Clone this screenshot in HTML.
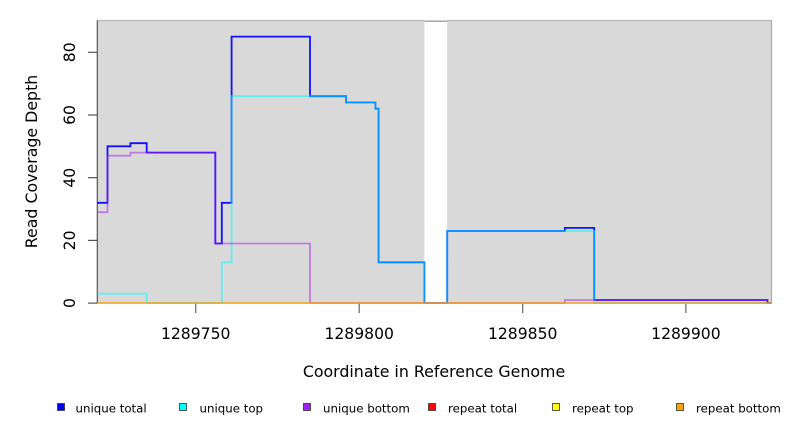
<!DOCTYPE html>
<html>
<head>
<meta charset="utf-8">
<style>
  html, body { margin: 0; padding: 0; background: #ffffff; }
  svg { display: block; }
  text { font-family: "DejaVu Sans", "Liberation Sans", sans-serif; fill: #000; }
</style>
</head>
<body>
<svg width="792" height="432" viewBox="0 0 792 432" xmlns="http://www.w3.org/2000/svg">
  <rect x="0" y="0" width="792" height="432" fill="#ffffff"/>

  <!-- plot background regions -->
  <rect x="97" y="20.5" width="327.4" height="282.6" fill="#d9d9d9"/>
  <rect x="447.2" y="20.5" width="324.3" height="282.6" fill="#d9d9d9"/>
  <!-- borders -->
  <line x1="97" y1="20.5" x2="424.4" y2="20.5" stroke="#b8b8b8" stroke-width="1.2"/>
  <line x1="447.2" y1="20.5" x2="771.5" y2="20.5" stroke="#b8b8b8" stroke-width="1.2"/>
  <line x1="424.4" y1="21.2" x2="447.2" y2="21.2" stroke="#888888" stroke-width="1.2"/>
  <line x1="771.5" y1="20.5" x2="771.5" y2="303.1" stroke="#a8a8a8" stroke-width="1.2"/>

  <!-- y axis -->
  <line x1="97.3" y1="20.5" x2="97.3" y2="303.6" stroke="#555" stroke-width="1.2"/>
  <g stroke="#555" stroke-width="1.2">
    <line x1="88" y1="303.1" x2="97.3" y2="303.1"/>
    <line x1="88" y1="240.4" x2="97.3" y2="240.4"/>
    <line x1="88" y1="177.7" x2="97.3" y2="177.7"/>
    <line x1="88" y1="115.0" x2="97.3" y2="115.0"/>
    <line x1="88" y1="52.3" x2="97.3" y2="52.3"/>
  </g>
  <g font-size="15.6" text-anchor="middle">
    <text transform="translate(75,303.1) rotate(-90)">0</text>
    <text transform="translate(75,240.4) rotate(-90)">20</text>
    <text transform="translate(75,177.7) rotate(-90)">40</text>
    <text transform="translate(75,115.0) rotate(-90)">60</text>
    <text transform="translate(75,52.3) rotate(-90)">80</text>
  </g>
  <text transform="translate(37,161.5) rotate(-90)" font-size="15.8" text-anchor="middle">Read Coverage Depth</text>

  <!-- x axis ticks -->
  <g stroke="#666" stroke-width="1.2">
    <line x1="195.7" y1="303.1" x2="195.7" y2="313"/>
    <line x1="359.2" y1="303.1" x2="359.2" y2="313"/>
    <line x1="522.7" y1="303.1" x2="522.7" y2="313"/>
    <line x1="685.9" y1="303.1" x2="685.9" y2="313"/>
  </g>
  <g font-size="15.6" text-anchor="middle">
    <text x="195.7" y="339">1289750</text>
    <text x="359.2" y="339">1289800</text>
    <text x="522.7" y="339">1289850</text>
    <text x="685.9" y="339">1289900</text>
  </g>
  <text x="434" y="377" font-size="15.8" text-anchor="middle">Coordinate in Reference Genome</text>

  <!-- series -->
  <g fill="none" stroke-width="1.8" stroke-linejoin="miter">
    <!-- unique total -->
    <path stroke="#0000ff" stroke-opacity="0.92" d="M97.3,202.8 H107.5 V146.3 H130.4 V143.2 H146.7 V152.6 H215.3 V243.5 H221.8 V202.8 H231.6 V36.6 H310.0 V96.2 H346.0 V102.4 H375.4 V108.7 H378.6 V262.3 H424.4 V303.1 H447.2 V231.0 H564.8 V227.9 H594.2 V300.0 H767.4 V303.1 H771.5"/>
    <!-- unique top -->
    <path stroke="#00ffff" stroke-opacity="0.55" d="M97.3,293.7 H146.7 V303.1 H221.8 V262.3 H231.6 V96.2 H346.0 V102.4 H375.4 V108.7 H378.6 V262.3 H424.4 V303.1 H447.2 V231.0 H594.2 V303.1 H771.5"/>
    <!-- unique bottom -->
    <path stroke="#a020f0" stroke-opacity="0.5" d="M97.3,212.2 H107.5 V155.7 H130.4 V152.6 H215.3 V243.5 H310.0 V303.1 H564.8 V300.0 H767.4 V303.1 H771.5"/>
    <!-- repeat total / top / bottom -->
    <path stroke="#ff0000" stroke-opacity="0.4" d="M97.3,303.1 H771.5"/>
    <path stroke="#ffff00" stroke-opacity="0.4" d="M97.3,303.1 H771.5"/>
    <path stroke="#ffa500" stroke-opacity="0.45" d="M97.3,303.1 H771.5"/>
  </g>

  <!-- legend -->
  <g stroke="#333" stroke-width="0.8">
    <rect x="57.5" y="403.5" width="7" height="7" fill="#0000ff"/>
    <rect x="179.5" y="403.5" width="7" height="7" fill="#00ffff"/>
    <rect x="303.5" y="403.5" width="7" height="7" fill="#a020f0"/>
    <rect x="428.5" y="403.5" width="7" height="7" fill="#ff0000"/>
    <rect x="552.5" y="403.5" width="7" height="7" fill="#ffff00"/>
    <rect x="676.5" y="403.5" width="7" height="7" fill="#ffa500"/>
  </g>
  <g font-size="11.8">
    <text x="75.5" y="412.5">unique total</text>
    <text x="199.5" y="412.5">unique top</text>
    <text x="323" y="412.5">unique bottom</text>
    <text x="448" y="412.5">repeat total</text>
    <text x="572" y="412.5">repeat top</text>
    <text x="696" y="412.5">repeat bottom</text>
  </g>
</svg>
</body>
</html>
